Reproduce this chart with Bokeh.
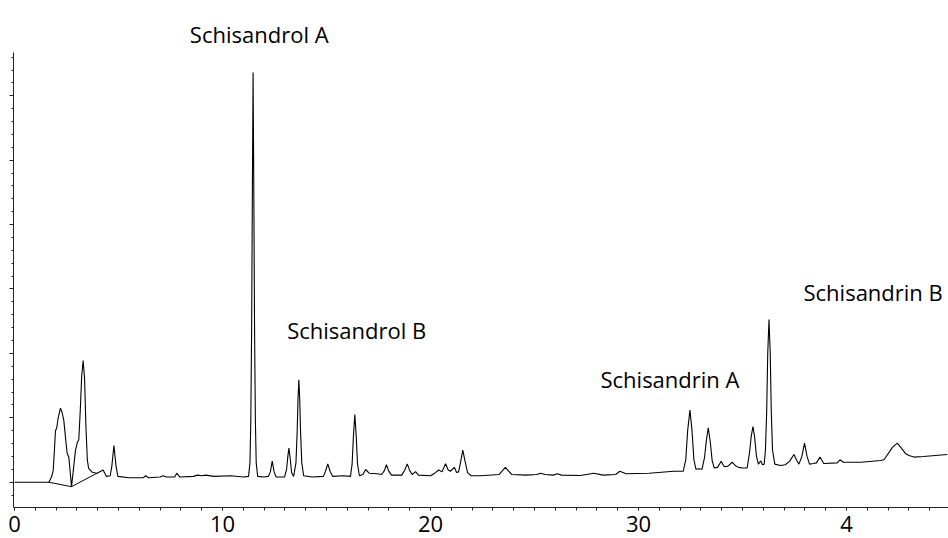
from bokeh.plotting import figure
from bokeh.models import FixedTicker, Range1d, ColumnDataSource
from bokeh.core.properties import value
from bokeh.embed import file_html
from bokeh.resources import INLINE

# ---------------- data ----------------
time_min = [
    0.0, 1.65, 1.78, 1.86, 1.92, 1.97, 2.03, 2.10, 2.21, 2.29, 2.37, 2.45, 2.53, 2.61, 2.68, 2.74,
    2.85, 2.93, 3.02, 3.09, 3.16, 3.23, 3.30, 3.37, 3.43, 3.50, 3.56, 3.73, 3.97, 4.26, 4.42,
    4.60, 4.68, 4.78, 4.88, 4.97,
    5.5, 6.2, 6.3, 6.45, 7.0, 7.15, 7.3, 7.7, 7.8, 7.95, 8.6, 8.8, 9.0, 9.2, 9.6, 10.4, 11.0,
    11.25, 11.32, 11.36, 11.40, 11.43, 11.47, 11.51, 11.54, 11.58, 11.62, 11.69,
    12.0, 12.2, 12.3, 12.39, 12.48, 12.58,
    12.98, 13.08, 13.14, 13.19, 13.25, 13.32, 13.42,
    13.53, 13.59, 13.63, 13.67, 13.71, 13.75, 13.81, 13.90,
    14.3, 14.85, 14.95, 15.06, 15.17, 15.30, 15.8,
    16.15, 16.23, 16.29, 16.36, 16.43, 16.49, 16.58,
    16.75, 16.88, 17.05, 17.44,
    17.65, 17.78, 17.88, 17.98, 18.12,
    18.62, 18.76, 18.88, 19.00, 19.12, 19.28, 19.42,
    20.0, 20.2, 20.4, 20.55, 20.72, 20.85, 20.95, 21.15, 21.25,
    21.35, 21.45, 21.55, 21.65, 21.78, 21.95, 22.4,
    23.3, 23.6, 23.9, 24.6, 25.1, 25.3, 25.5, 25.9, 26.1, 26.3, 27.2,
    27.85, 28.3, 28.9, 29.1, 29.4, 30.5, 31.7,
    32.15, 32.27, 32.36, 32.47, 32.57, 32.66, 32.76,
    32.90, 33.05, 33.17, 33.26, 33.35, 33.45, 33.54, 33.64,
    33.80, 33.97, 34.12, 34.30, 34.50, 34.68, 34.80, 35.0,
    35.22, 35.33, 35.42, 35.50, 35.58, 35.67, 35.76, 35.88, 35.96,
    36.04, 36.10, 36.16, 36.21, 36.27, 36.33, 36.38, 36.44, 36.55, 36.83,
    37.05, 37.25, 37.47, 37.60, 37.71, 37.85, 37.98, 38.10, 38.22, 38.40,
    38.55, 38.72, 38.90, 39.55, 39.68, 39.85, 40.7, 41.63,
    41.80, 41.88, 42.10, 42.20, 42.44, 42.68, 42.85, 43.00, 43.24, 43.70, 44.84,
]
signal = [
    0, 0, 8, 18, 50, 80, 84, 100, 115, 108, 96, 70, 45, 39, 15, -7,
    25, 49, 62, 66, 110, 165, 189, 160, 90, 35, 22, 15.5, 14, 19, 9,
    10, 25, 57, 25, 9,
    7, 7, 10, 7, 8, 10, 8, 8, 14, 8, 9, 11, 10, 11, 9, 10, 8,
    9, 30, 95, 240, 420, 636, 420, 240, 95, 30, 9,
    8, 9, 16, 32.6, 16, 8,
    8, 20, 40, 53, 38, 15, 9,
    30, 80, 130, 159, 130, 80, 30, 10,
    8, 9, 17, 28.5, 17, 9, 10,
    9, 28, 70, 105, 70, 28, 10,
    12, 19.7, 14, 13,
    12, 18, 27, 18, 11,
    11, 19, 28.5, 18, 12, 16.5, 11,
    10, 14, 19, 16, 28.5, 19, 17, 23, 15,
    16, 32, 50, 34, 15, 10, 10,
    12, 23, 12, 11, 12, 14, 12, 11, 13, 11, 10.4,
    14, 11, 12, 17, 13, 14, 17,
    17, 35, 80, 112, 80, 35, 20,
    21, 20, 38, 65, 84.5, 62, 33, 22,
    23, 32.6, 24, 25, 31, 25, 23, 22,
    22, 45, 72, 86.5, 70, 40, 28, 33, 27,
    28, 50, 110, 200, 252.6, 200, 110, 50, 28, 26,
    27, 32, 43, 34, 28, 40, 60.6, 40, 28, 29,
    30, 39, 29, 30, 34.8, 31, 31, 33.7,
    34.8, 38.8, 49, 54, 60.6, 51, 44, 41.4, 39, 40, 43,
]

# integration baselines drawn under the first cluster
seg_t0 = [1.65, 2.74]
seg_y0 = [0, -7]
seg_t1 = [2.74, 3.97]
seg_y1 = [-7, 14]

# peak labels
label_text = ["Schisandrol A", "Schisandrol B", "Schisandrin A", "Schisandrin B"]
label_t = [8.43, 13.11, 28.17, 37.93]
label_y = [696.7, 235.6, 159.5, 296.1]

# axis ticks
x_major_ticks = [0, 10, 20, 30, 40]
x_minor_ticks = list(range(0, 46))
x_tick_labels = ["0", "10", "20", "30", "4"]
y_major_ticks = [0, 100, 200, 300, 400, 500, 600]
y_minor_ticks = list(range(-20, 661, 20))

# ---------------- figure ----------------
FONT = "Open Sans"
p = figure(width=948, height=538, output_backend="svg", toolbar_location=None,
           x_range=Range1d(-0.048, 44.9), y_range=Range1d(-39.3, 748.0),
           min_border_left=13, min_border_right=0, min_border_top=0, min_border_bottom=31)
p.outline_line_color = None
p.grid.visible = False
p.background_fill_color = "white"
p.border_fill_color = "white"

p.line(time_min, signal, line_color="black", line_width=1.1)
p.segment(seg_t0, seg_y0, seg_t1, seg_y1, line_color="black", line_width=1.0)

src = ColumnDataSource(dict(t=label_t, y=label_y, txt=label_text))
p.text(x="t", y="y", text="txt", source=src, text_font=value(FONT),
       text_font_size="22px", text_color="black", text_align="left",
       text_baseline="alphabetic")

xa = p.xaxis[0]
xa.ticker = FixedTicker(ticks=x_major_ticks, minor_ticks=x_minor_ticks)
xa.major_label_overrides = {t: s for t, s in zip(x_major_ticks, x_tick_labels)}
xa.major_label_text_font = FONT
xa.major_label_text_font_size = "22px"
xa.major_label_text_color = "black"
xa.major_label_standoff = 5
xa.major_tick_in = 0
xa.major_tick_out = 3
xa.minor_tick_in = 0
xa.minor_tick_out = 3
xa.axis_line_color = "#222222"
xa.major_tick_line_color = "#222222"
xa.minor_tick_line_color = "#222222"

ya = p.yaxis[0]
ya.ticker = FixedTicker(ticks=y_major_ticks, minor_ticks=y_minor_ticks)
ya.bounds = (-39.3, 667)
ya.major_label_overrides = {t: "" for t in y_major_ticks}
ya.major_label_text_color = None
ya.major_label_standoff = 0
ya.major_tick_in = 0
ya.major_tick_out = 4
ya.minor_tick_in = 0
ya.minor_tick_out = 2
ya.axis_line_color = "#222222"
ya.major_tick_line_color = "#222222"
ya.minor_tick_line_color = "#222222"

open("out.html", "w").write(file_html(p, INLINE))
